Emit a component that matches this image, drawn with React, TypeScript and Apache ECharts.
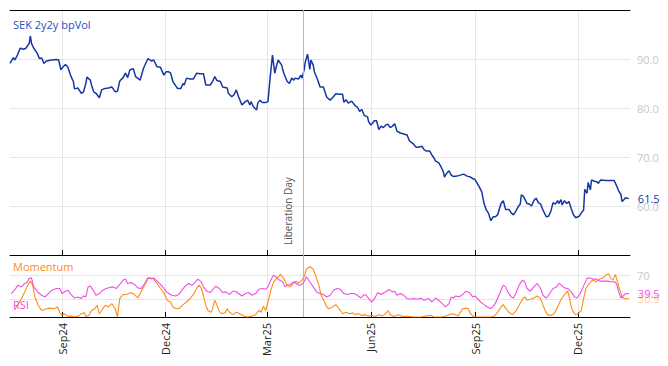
import React, { useEffect, useRef } from "react";
import * as echarts from "echarts";

// ---- Data ----
const startDate = "2024-07-17";
const endDate = "2026-01-16";
const tickDates = ["2024-09-01", "2024-12-01", "2025-03-01", "2025-06-01", "2025-09-01", "2025-12-01"];
const tickLabels = ["Sep24", "Dec24", "Mar25", "Jun25", "Sep25", "Dec25"];
const eventDate = "2025-04-02";
const eventLabel = "Liberation Day";

const volPoints: [string, number][] = [
  ["2024-07-17", 89.1], ["2024-07-20", 90.3], ["2024-07-21", 89.8], ["2024-07-23", 90.5], ["2024-07-26", 92.2],
  ["2024-07-29", 92.0], ["2024-07-31", 92.2], ["2024-08-03", 93.2], ["2024-08-04", 94.7], ["2024-08-05", 93.2],
  ["2024-08-07", 92.2], ["2024-08-10", 91.2], ["2024-08-12", 90.1], ["2024-08-14", 90.2], ["2024-08-16", 89.1],
  ["2024-08-18", 89.6], ["2024-08-23", 89.8], ["2024-08-27", 89.9], ["2024-08-29", 89.8], ["2024-08-31", 87.8],
  ["2024-09-02", 88.4], ["2024-09-04", 88.9], ["2024-09-06", 88.4], ["2024-09-09", 86.4], ["2024-09-11", 85.4],
  ["2024-09-12", 83.9], ["2024-09-15", 84.1], ["2024-09-18", 83.0], ["2024-09-20", 83.3], ["2024-09-22", 85.0],
  ["2024-09-23", 86.3], ["2024-09-26", 85.7], ["2024-09-27", 84.7], ["2024-09-29", 83.3], ["2024-10-01", 83.0],
  ["2024-10-04", 82.1], ["2024-10-06", 83.7], ["2024-10-09", 84.0], ["2024-10-12", 84.1], ["2024-10-15", 84.3],
  ["2024-10-18", 83.3], ["2024-10-20", 83.4], ["2024-10-22", 85.5], ["2024-10-25", 86.2], ["2024-10-27", 87.1],
  ["2024-10-29", 86.2], ["2024-10-31", 87.8], ["2024-11-03", 88.0], ["2024-11-05", 86.4], ["2024-11-09", 85.7],
  ["2024-11-12", 88.1], ["2024-11-16", 90.1], ["2024-11-19", 89.6], ["2024-11-21", 89.8], ["2024-11-24", 88.4],
  ["2024-11-27", 88.3], ["2024-11-30", 86.7], ["2024-12-02", 87.4], ["2024-12-04", 87.4], ["2024-12-06", 87.1],
  ["2024-12-08", 85.4], ["2024-12-12", 84.0], ["2024-12-15", 84.0], ["2024-12-17", 85.0], ["2024-12-18", 84.7],
  ["2024-12-20", 86.1], ["2024-12-23", 85.9], ["2024-12-26", 85.9], ["2024-12-29", 87.1], ["2025-01-01", 87.0],
  ["2025-01-04", 87.0], ["2025-01-06", 84.7], ["2025-01-10", 84.7], ["2025-01-12", 85.4], ["2025-01-14", 86.4],
  ["2025-01-16", 85.6], ["2025-01-19", 85.4], ["2025-01-21", 84.3], ["2025-01-25", 84.1], ["2025-01-26", 83.0],
  ["2025-01-29", 82.3], ["2025-01-31", 82.7], ["2025-02-02", 83.7], ["2025-02-04", 82.3], ["2025-02-07", 80.6],
  ["2025-02-10", 81.3], ["2025-02-12", 81.6], ["2025-02-14", 80.6], ["2025-02-15", 81.3], ["2025-02-17", 80.3],
  ["2025-02-20", 79.6], ["2025-02-21", 81.0], ["2025-02-23", 81.6], ["2025-02-25", 81.1], ["2025-02-28", 81.1],
  ["2025-03-02", 81.3], ["2025-03-04", 86.4], ["2025-03-06", 90.8], ["2025-03-08", 87.1], ["2025-03-09", 88.1],
  ["2025-03-11", 89.8], ["2025-03-14", 88.8], ["2025-03-16", 87.1], ["2025-03-19", 85.4], ["2025-03-21", 85.0],
  ["2025-03-23", 86.1], ["2025-03-25", 85.7], ["2025-03-26", 86.1], ["2025-03-29", 85.9], ["2025-03-31", 86.7],
  ["2025-04-01", 86.1], ["2025-04-03", 87.8], ["2025-04-04", 89.4], ["2025-04-06", 91.0], ["2025-04-08", 87.9],
  ["2025-04-09", 89.8], ["2025-04-11", 88.8], ["2025-04-12", 87.4], ["2025-04-15", 85.7], ["2025-04-17", 84.3],
  ["2025-04-20", 84.3], ["2025-04-23", 82.2], ["2025-04-26", 81.6], ["2025-04-28", 82.1], ["2025-05-01", 82.9],
  ["2025-05-04", 82.8], ["2025-05-07", 82.8], ["2025-05-08", 81.2], ["2025-05-10", 81.7], ["2025-05-12", 81.0],
  ["2025-05-15", 81.4], ["2025-05-18", 80.5], ["2025-05-20", 80.2], ["2025-05-22", 79.3], ["2025-05-24", 79.7],
  ["2025-05-26", 78.5], ["2025-05-29", 78.2], ["2025-05-30", 77.2], ["2025-06-01", 76.5], ["2025-06-04", 77.4],
  ["2025-06-06", 77.4], ["2025-06-08", 75.6], ["2025-06-10", 76.3], ["2025-06-12", 76.0], ["2025-06-14", 76.5],
  ["2025-06-16", 76.7], ["2025-06-18", 76.0], ["2025-06-20", 76.3], ["2025-06-22", 76.8], ["2025-06-24", 75.3],
  ["2025-06-27", 74.9], ["2025-06-30", 74.7], ["2025-07-03", 74.5], ["2025-07-05", 73.3], ["2025-07-08", 72.8],
  ["2025-07-11", 72.0], ["2025-07-13", 72.0], ["2025-07-16", 72.2], ["2025-07-18", 71.5], ["2025-07-20", 71.2],
  ["2025-07-23", 71.2], ["2025-07-25", 70.4], ["2025-07-27", 69.7], ["2025-07-28", 69.2], ["2025-07-31", 68.8],
  ["2025-08-02", 68.0], ["2025-08-04", 67.0], ["2025-08-05", 65.9], ["2025-08-07", 66.7], ["2025-08-09", 67.2],
  ["2025-08-11", 66.3], ["2025-08-13", 66.0], ["2025-08-16", 66.1], ["2025-08-19", 66.3], ["2025-08-22", 66.5],
  ["2025-08-25", 66.1], ["2025-08-28", 65.9], ["2025-08-30", 65.6], ["2025-09-01", 65.4], ["2025-09-03", 64.6],
  ["2025-09-05", 63.8], ["2025-09-07", 62.9], ["2025-09-09", 60.5], ["2025-09-11", 59.2], ["2025-09-13", 58.5],
  ["2025-09-15", 57.0], ["2025-09-17", 57.8], ["2025-09-19", 57.8], ["2025-09-21", 58.2], ["2025-09-24", 60.5],
  ["2025-09-26", 61.1], ["2025-09-28", 59.3], ["2025-10-01", 59.3], ["2025-10-03", 58.6], ["2025-10-05", 58.2],
  ["2025-10-07", 58.9], ["2025-10-09", 59.8], ["2025-10-11", 60.4], ["2025-10-12", 62.3], ["2025-10-14", 61.9],
  ["2025-10-17", 60.5], ["2025-10-19", 60.4], ["2025-10-21", 60.0], ["2025-10-23", 61.1], ["2025-10-25", 61.6],
  ["2025-10-27", 60.7], ["2025-10-29", 60.4], ["2025-10-31", 59.2], ["2025-11-03", 57.8], ["2025-11-05", 57.9],
  ["2025-11-07", 58.9], ["2025-11-09", 60.7], ["2025-11-11", 60.4], ["2025-11-13", 61.1], ["2025-11-14", 60.5],
  ["2025-11-16", 61.3], ["2025-11-17", 60.2], ["2025-11-19", 61.1], ["2025-11-21", 60.5], ["2025-11-23", 60.9],
  ["2025-11-25", 59.5], ["2025-11-27", 58.2], ["2025-11-29", 57.6], ["2025-12-02", 57.9], ["2025-12-04", 58.6],
  ["2025-12-06", 59.2], ["2025-12-07", 63.4], ["2025-12-09", 62.6], ["2025-12-10", 64.8], ["2025-12-12", 63.3],
  ["2025-12-13", 65.3], ["2025-12-15", 65.1], ["2025-12-18", 64.9], ["2025-12-19", 64.6], ["2025-12-21", 65.3],
  ["2025-12-26", 65.2], ["2025-12-30", 65.2], ["2026-01-02", 65.2], ["2026-01-04", 64.2], ["2026-01-06", 63.1],
  ["2026-01-08", 62.3], ["2026-01-09", 60.9], ["2026-01-11", 61.4], ["2026-01-12", 61.7], ["2026-01-15", 61.5],
];

const rsiPoints: [string, number][] = [
  ["2024-07-18", 39.7], ["2024-07-21", 45.4], ["2024-07-24", 53.9], ["2024-07-27", 51.0], ["2024-07-30", 56.8],
  ["2024-08-01", 58.5], ["2024-08-03", 65.4], ["2024-08-05", 66.4], ["2024-08-07", 51.0], ["2024-08-11", 41.4],
  ["2024-08-14", 36.8], ["2024-08-17", 34.0], ["2024-08-20", 39.7], ["2024-08-23", 45.4], ["2024-08-27", 48.3],
  ["2024-08-30", 48.3], ["2024-09-01", 39.7], ["2024-09-04", 43.7], ["2024-09-06", 45.4], ["2024-09-09", 38.0],
  ["2024-09-12", 32.2], ["2024-09-15", 34.0], ["2024-09-18", 31.2], ["2024-09-20", 35.6], ["2024-09-22", 34.0],
  ["2024-09-24", 51.0], ["2024-09-26", 52.7], ["2024-09-29", 43.7], ["2024-10-01", 36.8], ["2024-10-04", 39.7],
  ["2024-10-07", 45.4], ["2024-10-10", 48.3], ["2024-10-13", 50.0], ["2024-10-16", 51.0], ["2024-10-19", 48.3],
  ["2024-10-22", 55.1], ["2024-10-25", 62.5], ["2024-10-27", 64.2], ["2024-10-29", 56.8], ["2024-11-01", 58.5],
  ["2024-11-04", 55.1], ["2024-11-07", 49.3], ["2024-11-10", 48.3], ["2024-11-13", 56.8], ["2024-11-16", 66.4],
  ["2024-11-19", 64.2], ["2024-11-21", 66.4], ["2024-11-24", 60.8], ["2024-11-27", 55.1], ["2024-11-30", 48.3],
  ["2024-12-03", 41.4], ["2024-12-07", 36.8], ["2024-12-10", 35.6], ["2024-12-13", 38.0], ["2024-12-16", 45.4],
  ["2024-12-19", 52.7], ["2024-12-22", 56.8], ["2024-12-25", 53.9], ["2024-12-28", 59.6], ["2024-12-30", 64.2],
  ["2025-01-02", 59.6], ["2025-01-04", 51.0], ["2025-01-07", 43.7], ["2025-01-10", 41.4], ["2025-01-13", 48.3],
  ["2025-01-15", 52.2], ["2025-01-18", 48.3], ["2025-01-21", 41.4], ["2025-01-24", 42.5], ["2025-01-27", 38.0],
  ["2025-01-30", 43.7], ["2025-02-01", 43.7], ["2025-02-04", 39.7], ["2025-02-07", 35.6], ["2025-02-10", 39.7],
  ["2025-02-13", 41.4], ["2025-02-16", 36.8], ["2025-02-19", 39.7], ["2025-02-22", 47.1], ["2025-02-25", 48.3],
  ["2025-02-28", 47.1], ["2025-03-02", 51.0], ["2025-03-05", 64.2], ["2025-03-07", 71.0], ["2025-03-09", 68.1],
  ["2025-03-12", 62.5], ["2025-03-15", 59.6], ["2025-03-17", 51.0], ["2025-03-19", 53.9], ["2025-03-22", 55.1],
  ["2025-03-25", 59.6], ["2025-03-28", 55.1], ["2025-03-31", 53.9], ["2025-04-03", 59.6], ["2025-04-05", 68.1],
  ["2025-04-08", 59.6], ["2025-04-11", 51.0], ["2025-04-14", 42.5], ["2025-04-17", 39.7], ["2025-04-20", 38.0],
  ["2025-04-23", 34.0], ["2025-04-26", 36.8], ["2025-04-29", 45.4], ["2025-05-02", 48.3], ["2025-05-05", 47.1],
  ["2025-05-08", 39.7], ["2025-05-11", 38.0], ["2025-05-14", 39.7], ["2025-05-17", 39.7], ["2025-05-20", 36.8],
  ["2025-05-23", 32.2], ["2025-05-26", 38.0], ["2025-05-28", 36.8], ["2025-05-30", 31.2], ["2025-06-02", 25.4],
  ["2025-06-05", 34.0], ["2025-06-07", 41.4], ["2025-06-10", 38.0], ["2025-06-13", 41.4], ["2025-06-17", 46.6],
  ["2025-06-20", 42.5], ["2025-06-22", 43.7], ["2025-06-24", 36.8], ["2025-06-27", 39.7], ["2025-06-30", 36.8],
  ["2025-07-03", 31.2], ["2025-07-06", 30.0], ["2025-07-09", 31.2], ["2025-07-12", 30.0], ["2025-07-15", 32.2],
  ["2025-07-18", 28.3], ["2025-07-20", 30.0], ["2025-07-22", 31.2], ["2025-07-25", 25.4], ["2025-07-28", 32.2],
  ["2025-07-31", 28.3], ["2025-08-03", 22.6], ["2025-08-06", 17.0], ["2025-08-09", 22.6], ["2025-08-11", 34.0],
  ["2025-08-13", 32.2], ["2025-08-15", 35.6], ["2025-08-18", 34.0], ["2025-08-21", 38.0], ["2025-08-24", 43.7],
  ["2025-08-27", 41.4], ["2025-08-30", 34.0], ["2025-09-01", 35.6], ["2025-09-03", 31.2], ["2025-09-06", 25.4],
  ["2025-09-09", 21.0], ["2025-09-12", 17.0], ["2025-09-15", 14.0], ["2025-09-18", 20.0], ["2025-09-21", 31.2],
  ["2025-09-24", 45.4], ["2025-09-26", 54.0], ["2025-09-28", 51.0], ["2025-09-30", 42.5], ["2025-10-03", 34.0],
  ["2025-10-05", 32.2], ["2025-10-07", 39.7], ["2025-10-10", 54.0], ["2025-10-13", 62.5], ["2025-10-15", 59.6],
  ["2025-10-17", 48.3], ["2025-10-20", 43.7], ["2025-10-23", 51.0], ["2025-10-26", 56.8], ["2025-10-29", 48.3],
  ["2025-10-31", 36.8], ["2025-11-03", 32.2], ["2025-11-06", 39.7], ["2025-11-09", 48.3], ["2025-11-12", 51.0],
  ["2025-11-14", 56.8], ["2025-11-16", 55.0], ["2025-11-19", 49.3], ["2025-11-22", 48.3], ["2025-11-25", 42.5],
  ["2025-11-28", 34.0], ["2025-11-30", 32.2], ["2025-12-03", 39.7], ["2025-12-06", 52.7], ["2025-12-09", 65.4],
  ["2025-12-11", 66.4], ["2025-12-14", 64.2], ["2025-12-17", 64.2], ["2025-12-20", 60.8], ["2025-12-23", 60.8],
  ["2025-12-27", 60.8], ["2025-12-30", 59.6], ["2026-01-02", 59.6], ["2026-01-04", 56.8], ["2026-01-06", 42.5],
  ["2026-01-08", 32.2], ["2026-01-10", 35.6], ["2026-01-12", 39.7], ["2026-01-15", 39.5],
];

const momentumPoints: [string, number][] = [
  ["2024-07-21", 12.0], ["2024-07-27", 31.0], ["2024-07-30", 42.5], ["2024-08-02", 55.0], ["2024-08-04", 61.0],
  ["2024-08-06", 54.0], ["2024-08-08", 34.0], ["2024-08-11", 20.0], ["2024-08-14", 11.0], ["2024-08-17", 13.0],
  ["2024-08-21", 15.0], ["2024-08-25", 14.0], ["2024-08-28", 17.0], ["2024-08-30", 8.0], ["2024-09-01", 2.7],
  ["2024-09-03", 5.6], ["2024-09-06", 1.5], ["2024-09-09", 1.0], ["2024-09-12", 0.5], ["2024-09-15", 1.0],
  ["2024-09-18", 5.6], ["2024-09-21", 7.0], ["2024-09-22", 1.0], ["2024-09-25", 3.0], ["2024-09-27", 11.0],
  ["2024-09-30", 14.0], ["2024-10-02", 20.0], ["2024-10-04", 5.6], ["2024-10-06", 11.0], ["2024-10-09", 20.0],
  ["2024-10-12", 17.0], ["2024-10-15", 22.6], ["2024-10-18", 14.0], ["2024-10-20", 0.0], ["2024-10-22", 31.0],
  ["2024-10-25", 38.0], ["2024-10-28", 38.0], ["2024-11-01", 41.4], ["2024-11-04", 38.0], ["2024-11-07", 32.2],
  ["2024-11-10", 43.7], ["2024-11-13", 53.9], ["2024-11-16", 65.4], ["2024-11-18", 66.4], ["2024-11-21", 64.2],
  ["2024-11-24", 56.8], ["2024-11-27", 48.3], ["2024-11-30", 41.4], ["2024-12-03", 28.3], ["2024-12-06", 25.4],
  ["2024-12-08", 17.0], ["2024-12-11", 14.0], ["2024-12-14", 15.0], ["2024-12-17", 21.0], ["2024-12-20", 25.4],
  ["2024-12-23", 31.0], ["2024-12-26", 38.0], ["2024-12-29", 48.3], ["2024-12-31", 54.0], ["2025-01-02", 49.3],
  ["2025-01-04", 35.6], ["2025-01-06", 20.0], ["2025-01-08", 11.0], ["2025-01-11", 8.0], ["2025-01-14", 28.3],
  ["2025-01-16", 20.0], ["2025-01-18", 9.5], ["2025-01-20", 5.6], ["2025-01-23", 7.0], ["2025-01-25", 14.0],
  ["2025-01-27", 8.0], ["2025-01-30", 4.0], ["2025-02-02", 8.0], ["2025-02-05", 5.6], ["2025-02-08", 2.7],
  ["2025-02-11", 0.0], ["2025-02-15", 1.0], ["2025-02-19", 4.0], ["2025-02-22", 11.0], ["2025-02-24", 8.0],
  ["2025-02-26", 18.5], ["2025-02-28", 11.0], ["2025-03-02", 25.4], ["2025-03-05", 48.3], ["2025-03-07", 59.6],
  ["2025-03-10", 65.4], ["2025-03-13", 72.2], ["2025-03-16", 65.4], ["2025-03-19", 53.9], ["2025-03-22", 51.0],
  ["2025-03-24", 56.8], ["2025-03-27", 60.8], ["2025-03-29", 56.8], ["2025-04-01", 62.5], ["2025-04-03", 68.1],
  ["2025-04-05", 81.3], ["2025-04-08", 85.2], ["2025-04-11", 81.3], ["2025-04-13", 71.0], ["2025-04-16", 54.0],
  ["2025-04-18", 36.8], ["2025-04-21", 25.4], ["2025-04-23", 17.0], ["2025-04-25", 14.0], ["2025-04-28", 17.0],
  ["2025-05-01", 21.0], ["2025-05-04", 14.0], ["2025-05-07", 5.6], ["2025-05-10", 8.0], ["2025-05-13", 5.6],
  ["2025-05-16", 7.0], ["2025-05-18", 4.0], ["2025-05-21", 5.6], ["2025-05-24", 2.7], ["2025-05-27", 4.0],
  ["2025-05-30", 1.5], ["2025-06-02", 2.7], ["2025-06-05", 1.0], ["2025-06-08", 4.0], ["2025-06-11", 1.5],
  ["2025-06-14", 5.6], ["2025-06-16", 11.0], ["2025-06-18", 4.0], ["2025-06-21", 1.0], ["2025-06-25", 4.0],
  ["2025-06-29", 1.0], ["2025-07-03", 1.0], ["2025-07-09", 0.0], ["2025-07-15", 0.0], ["2025-07-19", 1.5],
  ["2025-07-24", 2.7], ["2025-07-27", 0.0], ["2025-08-02", 0.0], ["2025-08-06", 1.5], ["2025-08-09", 4.0],
  ["2025-08-12", 5.6], ["2025-08-15", 4.0], ["2025-08-17", 1.5], ["2025-08-19", 8.0], ["2025-08-21", 14.0],
  ["2025-08-24", 15.0], ["2025-08-26", 14.0], ["2025-08-28", 5.6], ["2025-08-31", 0.0], ["2025-09-03", 0.0],
  ["2025-09-09", 0.0], ["2025-09-15", 0.0], ["2025-09-18", 1.5], ["2025-09-21", 8.0], ["2025-09-24", 17.0],
  ["2025-09-26", 21.0], ["2025-09-28", 15.0], ["2025-10-01", 8.0], ["2025-10-04", 4.0], ["2025-10-07", 9.5],
  ["2025-10-10", 20.0], ["2025-10-13", 31.0], ["2025-10-15", 34.0], ["2025-10-17", 28.3], ["2025-10-20", 30.0],
  ["2025-10-23", 32.2], ["2025-10-26", 35.6], ["2025-10-29", 31.0], ["2025-10-31", 21.0], ["2025-11-02", 11.0],
  ["2025-11-04", 4.0], ["2025-11-07", 2.7], ["2025-11-10", 5.6], ["2025-11-13", 17.0], ["2025-11-15", 25.4],
  ["2025-11-17", 32.2], ["2025-11-19", 38.0], ["2025-11-22", 43.7], ["2025-11-24", 28.3], ["2025-11-25", 17.0],
  ["2025-11-27", 8.0], ["2025-11-29", 4.0], ["2025-12-01", 5.6], ["2025-12-04", 11.0], ["2025-12-06", 31.0],
  ["2025-12-08", 48.3], ["2025-12-11", 56.8], ["2025-12-14", 62.5], ["2025-12-17", 59.6], ["2025-12-20", 64.2],
  ["2025-12-23", 66.4], ["2025-12-26", 71.0], ["2025-12-28", 73.9], ["2025-12-30", 65.4], ["2026-01-01", 62.5],
  ["2026-01-03", 72.2], ["2026-01-05", 59.6], ["2026-01-07", 45.4], ["2026-01-09", 34.0], ["2026-01-11", 31.0],
  ["2026-01-14", 31.0], ["2026-01-15", 30.9],
];

const rsiLevels = [70, 30];

// ---- Colours ----
const VOL_COLOR = "#1536a3";
const TITLE_COLOR = "#2352c4";
const MOM_COLOR = "#ff8c1a";
const RSI_COLOR = "#f04ee0";
const GRID_COLOR = "#e6e6e6";
const FONT = "'Open Sans', 'Liberation Sans', sans-serif";

function buildCategories(): string[] {
  const out: string[] = [];
  const s = new Date(startDate + "T00:00:00Z").getTime();
  const e = new Date(endDate + "T00:00:00Z").getTime();
  for (let t = s; t <= e; t += 86400000) out.push(new Date(t).toISOString().slice(0, 10));
  return out;
}

export default function App() {
  const ref = useRef<HTMLDivElement>(null);
  useEffect(() => {
    if (!ref.current) return;
    const chart = echarts.init(ref.current, undefined, { renderer: "svg" });
    const cats = buildCategories();
    const isTick = (_i: number, v: string) => tickDates.indexOf(v) >= 0;
    const tickFmt = (v: string) => {
      const i = tickDates.indexOf(v);
      return i >= 0 ? tickLabels[i] : "";
    };
    const baseX = {
      type: "category",
      data: cats,
      boundaryGap: false,
      axisLine: { show: true, lineStyle: { color: "#000", width: 1 } },
      axisTick: { show: true, inside: true, length: 5, interval: isTick, lineStyle: { color: "#000" } },
      axisLabel: { show: false },
      splitLine: { show: true, interval: isTick, lineStyle: { color: GRID_COLOR, width: 1 } },
    };
    const option: any = {
      animation: false,
      textStyle: { fontFamily: FONT },
      grid: [
        { left: 10, right: 38, top: 10, height: 245 },
        { left: 10, right: 38, top: 255, height: 62 },
      ],
      xAxis: [
        { ...baseX, gridIndex: 0, position: "bottom" },
        {
          ...baseX,
          gridIndex: 0,
          position: "top",
          axisTick: { show: false },
          splitLine: { show: false },
        },
        {
          ...baseX,
          gridIndex: 1,
          position: "bottom",
          axisLabel: {
            show: true,
            interval: isTick,
            rotate: 90,
            formatter: tickFmt,
            color: "#222",
            fontSize: 11,
            fontFamily: FONT,
            margin: 6,
          },
        },
      ],
      yAxis: [
        {
          type: "value",
          gridIndex: 0,
          position: "right",
          min: 50,
          max: 100,
          interval: 10,
          axisLine: { show: false },
          axisTick: { show: false },
          axisLabel: {
            color: "#c8c8c8",
            fontSize: 11,
            fontFamily: FONT,
            margin: 7,
            showMinLabel: false,
            showMaxLabel: false,
            formatter: (v: number) => v.toFixed(1),
          },
          splitLine: { show: true, lineStyle: { color: GRID_COLOR } },
        },
        {
          type: "value",
          gridIndex: 1,
          position: "right",
          min: 0,
          max: 105,
          interval: 10,
          axisLine: { show: false },
          axisTick: { show: false },
          axisLabel: {
            color: "#c8c8c8",
            fontSize: 11,
            fontFamily: FONT,
            margin: 7,
            formatter: (v: number) => (v === 70 ? "70" : ""),
          },
          splitLine: { show: false },
        },
      ],
      series: [
        {
          type: "line",
          name: "SEK 2y2y bpVol",
          xAxisIndex: 0,
          yAxisIndex: 0,
          data: volPoints,
          showSymbol: false,
          lineStyle: { color: VOL_COLOR, width: 1.5 },
          itemStyle: { color: VOL_COLOR },
          endLabel: {
            show: true,
            distance: 9,
            color: VOL_COLOR,
            fontSize: 11,
            fontFamily: FONT,
            formatter: (p: any) => Number(p.value[1]).toFixed(1),
          },
          markLine: {
            silent: true,
            symbol: ["none", "none"],
            data: [
              {
                xAxis: eventDate,
                lineStyle: { color: "#b9b9b9", width: 1, type: "solid" },
                label: {
                  show: true,
                  formatter: eventLabel,
                  position: "insideStartTop",
                  distance: 10,
                  color: "#555",
                  fontSize: 10,
                  fontFamily: FONT,
                },
              },
            ],
          },
        },
        {
          type: "line",
          name: "Momentum",
          xAxisIndex: 2,
          yAxisIndex: 1,
          data: momentumPoints,
          showSymbol: false,
          lineStyle: { color: MOM_COLOR, width: 1.1 },
          itemStyle: { color: MOM_COLOR },
          endLabel: {
            show: true,
            distance: 9,
            color: "rgba(255,160,70,0.6)",
            fontSize: 11,
            fontFamily: FONT,
            formatter: (p: any) => Number(p.value[1]).toFixed(1),
          },
          markLine: {
            silent: true,
            symbol: ["none", "none"],
            label: { show: false },
            z: 1,
            data: [
              ...rsiLevels.map((l) => ({ yAxis: l, lineStyle: { color: GRID_COLOR, width: 1, type: "solid" } })),
              { xAxis: eventDate, lineStyle: { color: "#b9b9b9", width: 1, type: "solid" } },
            ],
          },
        },
        {
          type: "line",
          name: "RSI",
          xAxisIndex: 2,
          yAxisIndex: 1,
          data: rsiPoints,
          showSymbol: false,
          lineStyle: { color: RSI_COLOR, width: 1.1 },
          itemStyle: { color: RSI_COLOR },
          endLabel: {
            show: true,
            distance: 9,
            color: RSI_COLOR,
            fontSize: 11,
            fontFamily: FONT,
            formatter: (p: any) => Number(p.value[1]).toFixed(1),
          },
        },
      ],
      graphic: [
        {
          type: "text",
          left: 13,
          top: 19,
          z: 100,
          style: { text: "SEK 2y2y bpVol", fill: TITLE_COLOR, font: `11px ${FONT}` },
        },
        {
          type: "text",
          left: 11,
          top: 260,
          z: 100,
          style: {
            text: "Momentum",
            fill: MOM_COLOR,
            font: `11px ${FONT}`,
            backgroundColor: "#fff",
            padding: [1, 2, 2, 2],
          },
        },
        {
          type: "text",
          left: 13,
          top: 299,
          z: 100,
          style: { text: "RSI", fill: RSI_COLOR, font: `11px ${FONT}` },
        },
      ],
    };
    chart.setOption(option);
    return () => chart.dispose();
  }, []);
  return (
    <div
      ref={ref}
      style={{ position: "fixed", left: 0, top: 0, width: 668, height: 366, background: "#fff" }}
    />
  );
}
